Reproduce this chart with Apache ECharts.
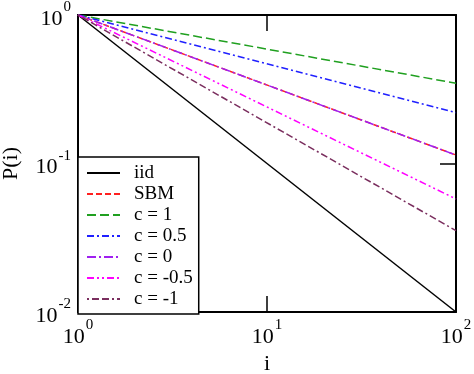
<!DOCTYPE html>
<html>
<head>
<meta charset="utf-8">
<script src="https://cdn.jsdelivr.net/npm/echarts@6/dist/echarts.min.js"></script>
<style>html,body{margin:0;padding:0;background:#fff}#c{width:474px;height:374px}</style>
</head>
<body>
<div id="c"></div>
<script>
const xValues = [1, 100];
const iid = [1, 0.01];
const sbm = [1, 0.114];
const c1 = [1, 0.347];
const c05 = [1, 0.22];
const c0 = [1, 0.114];
const cm05 = [1, 0.0577];
const cm1 = [1, 0.0353];
const seriesNames = ['iid', 'SBM', 'c = 1', 'c = 0.5', 'c = 0', 'c = -0.5', 'c = -1'];
const xLabel = 'i';
const yLabel = 'P(i)';

const FONT = '"Liberation Serif", "Times New Roman", serif';
const seriesData = [iid, sbm, c1, c05, c0, cm05, cm1];
const colors = ['#000000', '#ff2020', '#20a020', '#2020ff', '#a020f0', '#ff00ff', '#7a2e5e'];
const dashes = ['solid', [6, 3], [9, 4], [7, 3, 2, 3], [9, 3, 2, 3], [7, 3, 2, 3, 2, 3], [2, 3, 7, 3, 7, 3]];

function supFmt(v) {
  const e = Math.round(Math.log10(v));
  return '{b|10}{s|' + e + '}';
}
const rich = {
  b: {fontFamily: FONT, fontSize: 22, color: '#000', lineHeight: 30, verticalAlign: 'bottom'},
  s: {fontFamily: FONT, fontSize: 15, color: '#000', lineHeight: 30, verticalAlign: 'top', padding: [0, 0, 0, 1]}
};

const axisLine = {show: true, onZero: false, lineStyle: {color: '#000', width: 2}};
const tick = {show: true, inside: true, length: 16, lineStyle: {color: '#000', width: 1.5}};

const chart = echarts.init(document.getElementById('c'), null, {renderer: 'canvas'});
chart.setOption({
  animation: false,
  backgroundColor: '#fff',
  grid: {left: 78, right: 18, top: 15, bottom: 62, containLabel: false, outerBoundsMode: 'none'},
  xAxis: [
    {type: 'log', logBase: 10, min: 1, max: 100, position: 'bottom',
     axisLine, axisTick: tick, minorTick: {show: false}, splitLine: {show: false},
     axisLabel: {formatter: supFmt, rich, margin: 6},
     name: xLabel, nameLocation: 'middle', nameGap: 37,
     nameTextStyle: {fontFamily: FONT, fontSize: 22, color: '#000'}},
    {type: 'log', logBase: 10, min: 1, max: 100, position: 'top',
     axisLine, axisTick: tick, splitLine: {show: false}, axisLabel: {show: false}}
  ],
  yAxis: [
    {type: 'log', logBase: 10, min: 0.01, max: 1, position: 'left',
     axisLine, axisTick: tick, splitLine: {show: false},
     axisLabel: {formatter: supFmt, rich, margin: 7},
     name: yLabel, nameLocation: 'middle', nameGap: 56, nameRotate: 90,
     nameTextStyle: {fontFamily: FONT, fontSize: 22, color: '#000'}},
    {type: 'log', logBase: 10, min: 0.01, max: 1, position: 'right',
     axisLine, axisTick: tick, splitLine: {show: false}, axisLabel: {show: false}}
  ],
  legend: {
    orient: 'vertical', left: 78, top: 157,
    backgroundColor: '#fff', borderColor: '#000', borderWidth: 1.5, borderRadius: 0,
    padding: [6, 6, 5, 8], itemWidth: 33, itemHeight: 14, itemGap: 1,
    itemStyle: {opacity: 0},
    textStyle: {fontFamily: FONT, fontSize: 19, lineHeight: 20, color: '#000', padding: [0, 0, 0, 9]},
    data: seriesNames
  },
  series: seriesNames.map((n, i) => ({
    name: n, type: 'line', xAxisIndex: 0, yAxisIndex: 0,
    symbol: 'none', showSymbol: false,
    color: colors[i],
    lineStyle: {color: colors[i], width: 1.5, type: dashes[i]},
    data: xValues.map((x, k) => [x, seriesData[i][k]])
  }))
});
</script>
</body>
</html>
